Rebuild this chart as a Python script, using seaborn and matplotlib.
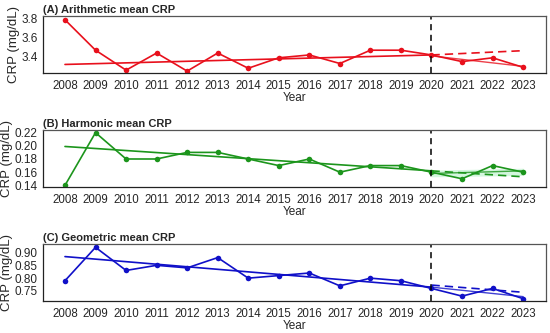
import numpy as np
import pandas as pd
import matplotlib.pyplot as plt
import seaborn as sns

years = list(range(2008, 2024))

# observed yearly means
arith = [3.79, 3.47, 3.26, 3.44, 3.25, 3.44, 3.28, 3.39, 3.42, 3.33, 3.47, 3.47, 3.42, 3.35, 3.39, 3.29]
harm = [0.14, 0.22, 0.18, 0.18, 0.19, 0.19, 0.18, 0.17, 0.18, 0.16, 0.17, 0.17, 0.16, 0.15, 0.17, 0.16]
geom = [0.79, 0.92, 0.83, 0.85, 0.84, 0.88, 0.80, 0.81, 0.82, 0.77, 0.80, 0.79, 0.76, 0.73, 0.76, 0.72]

# trend lines: pre-period fit, projection, post-period fit
trend_years = [2008, 2020]
proj_years = [2020, 2023]
arith_trend = [3.32, 3.42]
arith_proj = [3.42, 3.465]
arith_post = [3.41, 3.30]
harm_trend = [0.199, 0.162]
harm_proj = [0.162, 0.153]
harm_post = [0.158, 0.162]
harm_band_lo = [0.153, 0.155]
harm_band_hi = [0.163, 0.166]
geom_trend = [0.884, 0.765]
geom_proj = [0.773, 0.745]
geom_post = [0.765, 0.728]

titles = ["(A) Arithmetic mean CRP", "(B) Harmonic mean CRP", "(C) Geometric mean CRP"]
colors = ["#e8101c", "#1c951c", "#1010c8"]
ylims = [(3.23, 3.83), (0.1375, 0.224), (0.711, 0.933)]
yticks = [[3.4, 3.6, 3.8], [0.14, 0.16, 0.18, 0.20, 0.22], [0.75, 0.80, 0.85, 0.90]]
yfmt = ["{:.1f}", "{:.2f}", "{:.2f}"]

sns.set_style("white")
plt.rcParams['font.family'] = ['Liberation Sans', 'DejaVu Sans']

fig = plt.figure(figsize=(5.5, 3.33), dpi=100)
# axes boxes in pixel units (left, top, right, bottom)
boxes = [(43, 16, 546, 73), (43, 130, 546, 187), (43, 244, 546, 301)]
W, H = 550, 333

series = [arith, harm, geom]
trends = [arith_trend, harm_trend, geom_trend]
projs = [arith_proj, harm_proj, geom_proj]
posts = [arith_post, harm_post, geom_post]

for i in range(3):
    l, t, r, b = boxes[i]
    ax = fig.add_axes([l / W, 1 - b / H, (r - l) / W, (b - t) / H])
    c = colors[i]
    df = pd.DataFrame({"Year": years, "CRP": series[i]})
    sns.lineplot(data=df, x="Year", y="CRP", ax=ax, color=c, marker="o",
                 markersize=4, markeredgewidth=0, linewidth=1.2)
    ax.plot(trend_years, trends[i], color=c, linewidth=1.2)
    ax.plot(proj_years, projs[i], color=c, linewidth=1.2, linestyle=(0, (5, 3)))
    ax.plot(proj_years, posts[i], color=c, linewidth=1.0, alpha=0.8)
    if i == 1:
        ax.fill_between(proj_years, harm_band_lo, harm_band_hi, color="#b8f0c8", alpha=0.6, linewidth=0)
    ax.axvline(2020, color="black", linestyle=(0, (4, 3)), linewidth=1.1)

    ax.set_xlim(2007.28, 2023.75)
    ax.set_ylim(*ylims[i])
    ax.set_xticks(years)
    ax.set_xticklabels([str(y) for y in years], fontsize=8.3)
    ax.set_yticks(yticks[i])
    ax.set_yticklabels([yfmt[i].format(v) for v in yticks[i]], fontsize=8.5)
    ax.tick_params(axis="both", length=3, width=0.8, color="#333333", pad=2, direction="out")
    ax.tick_params(axis="y", pad=1)
    for s in ax.spines.values():
        s.set_color("#555555")
        s.set_linewidth(0.9)
    ax.spines["left"].set_color("#222222")
    ax.spines["bottom"].set_color("#222222")
    ax.set_ylabel("CRP (mg/dL)", fontsize=9.5, labelpad=1)
    ax.set_xlabel("Year", fontsize=8.5)
    ax.xaxis.set_label_coords(0.5, -0.33)
    ax.set_title(titles[i], fontsize=8, fontweight="bold", loc="left", pad=2)

fig.savefig("out.png", dpi=100)
